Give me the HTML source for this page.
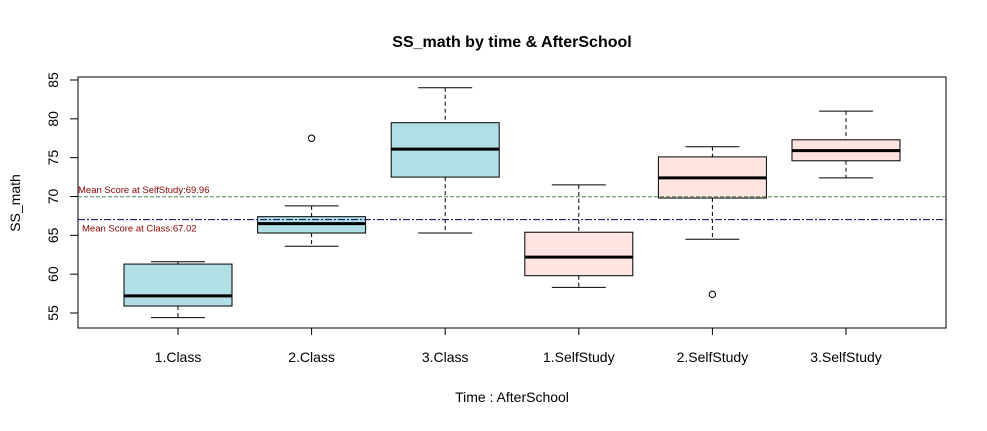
<!DOCTYPE html>
<html><head><meta charset="utf-8"><style>
body{margin:0;background:#fff;font-family:"Liberation Sans",Arial,sans-serif}
</style></head><body>
<svg width="987" height="426" xmlns="http://www.w3.org/2000/svg">
<rect width="987" height="426" fill="#fff"/>
<text x="512" y="47" text-anchor="middle" font-size="16" font-weight="bold">SS_math by time &amp; AfterSchool</text>
<rect x="78" y="77" width="868" height="251" fill="none" stroke="#000"/>
<g id="yaxis"></g>
<g id="boxes"></g>
<text x="512" y="402" text-anchor="middle" font-size="14">Time : AfterSchool</text>
<text transform="translate(20,203) rotate(-90)" text-anchor="middle" font-size="14">SS_math</text>
</svg>
<script>
const categories=["1.Class","2.Class","3.Class","1.SelfStudy","2.SelfStudy","3.SelfStudy"];
const whiskerLow=[54.4,63.6,65.3,58.3,64.5,72.4];
const q1=[55.9,65.3,72.5,59.8,69.8,74.6];
const medians=[57.2,66.5,76.1,62.2,72.4,75.9];
const q3=[61.3,67.4,79.5,65.4,75.1,77.3];
const whiskerHigh=[61.6,68.8,84.0,71.5,76.4,81.0];
const outlierGroup=[1,4];
const outlierValue=[77.5,57.4];
const yTicks=[55,60,65,70,75,80,85];
const meanSelf=69.96, meanClass=67.02;
const fills=["#b0e0e6","#b0e0e6","#b0e0e6","#ffe4e1","#ffe4e1","#ffe4e1"];
const NS="http://www.w3.org/2000/svg";
const svg=document.querySelector("svg");
function y(v){return 196.5-(v-70)*7.767;}
function x(i){return 178+i*133.6;}
function el(t,a,p){const e=document.createElementNS(NS,t);for(const k in a)e.setAttribute(k,a[k]);(p||svg).appendChild(e);return e;}
const ya=document.getElementById("yaxis"),bx=document.getElementById("boxes");
el("line",{x1:78,x2:78,y1:y(55),y2:y(85),stroke:"#000"},ya);
yTicks.forEach(v=>{
 const t=el("line",{x1:70,x2:78,y1:y(v),y2:y(v),stroke:"#000"},ya);
 
 
 const l=el("text",{x:0,y:0,"font-size":14,"text-anchor":"middle",transform:`translate(58,${y(v)}) rotate(-90)`},ya);
 l.textContent=v;
 
 
});
categories.forEach((c,i)=>{
 const cx=x(i),w=108,hw=27;
 const g=el("g",{},bx);
 
 
 el("line",{x1:cx,x2:cx,y1:y(whiskerHigh[i]),y2:y(q3[i]),stroke:"#000","stroke-dasharray":"4,3"},g);
 el("line",{x1:cx,x2:cx,y1:y(q1[i]),y2:y(whiskerLow[i]),stroke:"#000","stroke-dasharray":"4,3"},g);
 el("line",{x1:cx-hw,x2:cx+hw,y1:y(whiskerHigh[i]),y2:y(whiskerHigh[i]),stroke:"#000"},g);
 el("line",{x1:cx-hw,x2:cx+hw,y1:y(whiskerLow[i]),y2:y(whiskerLow[i]),stroke:"#000"},g);
 el("rect",{x:cx-w/2,y:y(q3[i]),width:w,height:y(q1[i])-y(q3[i]),fill:fills[i],stroke:"#000"},g);
 el("line",{x1:cx-w/2,x2:cx+w/2,y1:y(medians[i]),y2:y(medians[i]),stroke:"#000","stroke-width":3},g);
 el("line",{x1:cx,x2:cx,y1:328,y2:335,stroke:"#000"},g);
 const l=el("text",{x:cx,y:362,"text-anchor":"middle","font-size":14},g);
 l.textContent=c;
 
 
});
el("line",{x1:x(0),x2:x(5),y1:328,y2:328,stroke:"#000"},bx);
outlierGroup.forEach((gi,k)=>{
 const o=el("circle",{cx:x(gi),cy:y(outlierValue[k]),r:3.2,fill:"none",stroke:"#000"},bx);
 
 
});
const l1=el("line",{x1:78,x2:946,y1:y(meanSelf),y2:y(meanSelf),stroke:"#4a8a4a","stroke-dasharray":"4,2","stroke-width":1});


const l2=el("line",{x1:78,x2:946,y1:y(meanClass),y2:y(meanClass),stroke:"#000060","stroke-dasharray":"7,2,2,2","stroke-width":1});


const t1=el("text",{x:78,y:y(meanSelf)-4,"font-size":9.5,fill:"#8b0000"});
t1.textContent="Mean Score at SelfStudy:"+meanSelf;


const t2=el("text",{x:82,y:y(meanClass)+12,"font-size":9.5,fill:"#8b0000"});
t2.textContent="Mean Score at Class:"+meanClass;


</script>
</body></html>
